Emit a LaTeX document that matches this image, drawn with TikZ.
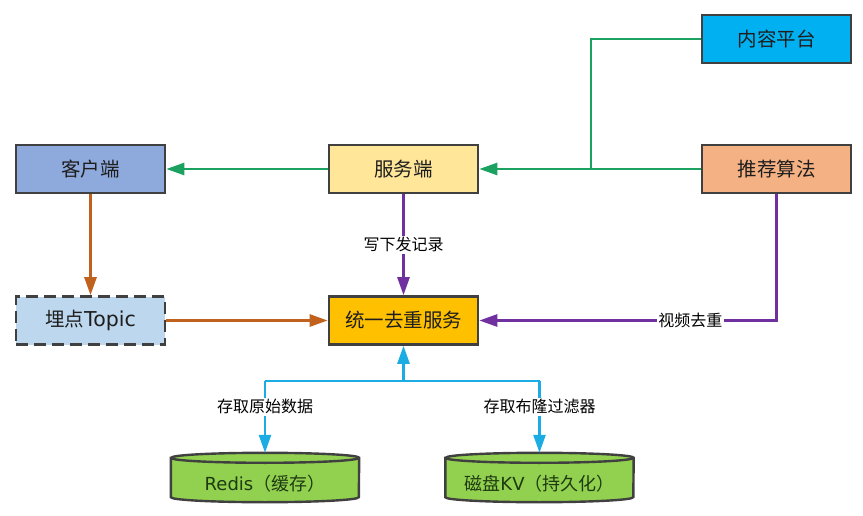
\documentclass[tikz,border=0pt]{standalone}
\usepackage{fontspec}
\setmainfont{Noto Sans CJK SC}
\newfontfamily\latf{DejaVu Sans}
\usetikzlibrary{arrows.meta,calc}
\definecolor{boxline}{HTML}{404040}
\definecolor{txt}{HTML}{1E1E1E}
\definecolor{cBlue}{HTML}{00B0F0}
\definecolor{cClient}{HTML}{8EA9DB}
\definecolor{cServer}{HTML}{FFE699}
\definecolor{cAlg}{HTML}{F4B183}
\definecolor{cTopic}{HTML}{BDD7EE}
\definecolor{cDedup}{HTML}{FFC000}
\definecolor{cDb}{HTML}{92D050}
\definecolor{dbtxt}{HTML}{1E3A10}
\definecolor{lGreen}{HTML}{1BA160}
\definecolor{lOrange}{HTML}{C0611E}
\definecolor{lPurple}{HTML}{7030A0}
\definecolor{lBlue}{HTML}{1AACE3}
\begin{document}
\begin{tikzpicture}[x=1pt,y=-1pt,
  box/.style={draw=boxline, line width=2.6pt, minimum width=149pt, minimum height=48pt,
    inner sep=0pt, font=\fontsize{19.5}{22}\selectfont, text=txt},
  dbnode/.style={minimum width=188pt, minimum height=49pt, inner sep=0pt},
  dbline/.style={draw=boxline, line width=2.4pt, fill=cDb},
  lbl/.style={fill=white, font=\fontsize{16}{18}\selectfont, inner sep=1.5pt, text=black},
  conn/.style={line width=2.6pt},
  arr/.style={-{Triangle[length=18pt,width=12pt]}}]
\useasboundingbox (0,0) rectangle (863,516);

% nodes
\node[box, fill=cBlue] (content) at (776.5,39) {内容平台};
\node[box, fill=cClient] (client) at (90.5,169) {客户端};
\node[box, fill=cServer] (server) at (403.5,169) {服务端};
\node[box, fill=cAlg] (alg) at (776.5,169) {推荐算法};
\node[box, fill=cTopic, dash pattern=on 12pt off 6pt] (topic) at (90.5,320.5) {埋点{\latf\fontsize{20.5}{22}\selectfont Topic}};
\node[box, fill=cDedup] (dedup) at (403.5,320.5) {统一去重服务};

% cylinders
\node[dbnode] (redis) at (265,477.5) {};
\node[dbnode] (kv) at (539.5,477.5) {};
\foreach \n in {redis,kv}{
  \draw[dbline] ($(\n.north west)+(0,5)$) -- ($(\n.south west)+(0,-5)$)
     arc[start angle=180, end angle=360, x radius=94pt, y radius=5pt]
     -- ($(\n.north east)+(0,5)$)
     arc[start angle=0, end angle=180, x radius=94pt, y radius=5pt] -- cycle;
  \draw[draw=boxline, line width=2.4pt] ($(\n.north west)+(0,5)$)
     arc[start angle=180, end angle=360, x radius=94pt, y radius=5pt];
}
\node[font=\fontsize{18}{20}\selectfont, text=dbtxt, inner sep=0pt] (redisT) at ($(redis.center)+(0,6)$) {{\latf Redis}（缓存）};
\node[font=\fontsize{18}{20}\selectfont, text=dbtxt, inner sep=0pt] (kvT) at ($(kv.center)+(0,6)$) {磁盘{\latf KV}（持久化）};

% green connectors
\coordinate (gj) at (591,169);
\draw[conn, draw=lGreen, line width=2.2pt] (content.west) -| (gj);
\draw[conn, draw=lGreen, arr] (alg.west) -- (server.east);
\draw[conn, draw=lGreen, arr] (server.west) -- (client.east);

% orange connectors
\draw[conn, draw=lOrange, arr] (client.south) -- (topic.north);
\draw[conn, draw=lOrange, arr] (topic.east) -- (dedup.west);

% purple connectors
\draw[conn, draw=lPurple, arr] (server.south) -- node[lbl] {写下发记录} (dedup.north);
\draw[conn, draw=lPurple, arr] (alg.south) |- node[lbl, pos=0.645] {视频去重} (dedup.east);

% blue connectors
\coordinate (bj) at (403.5,381);
\coordinate (bl) at (265,381);
\coordinate (br) at (539.5,381);
\draw[conn, draw=lBlue] (bl) -- (br);
\draw[conn, draw=lBlue, arr] (bj) -- (dedup.south);
\draw[conn, draw=lBlue, arr] (bl) -- node[lbl, pos=0.36] {存取原始数据} (redis.north);
\draw[conn, draw=lBlue, arr] (br) -- node[lbl, pos=0.36] {存取布隆过滤器} (kv.north);
\end{tikzpicture}
\end{document}
